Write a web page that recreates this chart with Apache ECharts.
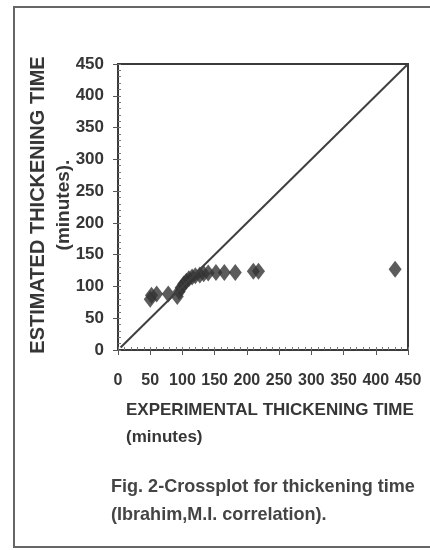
<!DOCTYPE html>
<html>
<head>
<meta charset="utf-8">
<script src="https://cdn.jsdelivr.net/npm/echarts@6/dist/echarts.min.js"></script>
<style>
html,body{margin:0;padding:0;background:#fff;}
#c{width:430px;height:550px;}
</style>
</head>
<body>
<div id="c"></div>
<script>
// Data
const experimental = [50, 52, 60, 78, 92, 95, 98, 102, 106, 110, 115, 120, 127, 133, 140, 152, 165, 182, 210, 218, 430];
const estimated    = [80, 86, 88, 88, 84, 92, 98, 104, 108, 112, 115, 117, 118, 120, 121, 122, 122, 122, 124, 124, 127];
const diagonalX = [4, 450];
const diagonalY = [4, 450];
const xTicks = [0, 50, 100, 150, 200, 250, 300, 350, 400, 450];
const yTicks = [0, 50, 100, 150, 200, 250, 300, 350, 400, 450];
const xTitle = ['EXPERIMENTAL THICKENING TIME', '(minutes)'];
const yTitle = ['ESTIMATED THICKENING TIME', '(minutes).'];
const caption = ['Fig. 2-Crossplot for thickening time', '(Ibrahim,M.I. correlation).'];

const FONT = '"Liberation Sans", Arial, sans-serif';
const INK = '#363636';

const points = experimental.map((x, i) => [x, estimated[i]]);
const diag = diagonalX.map((x, i) => [x, diagonalY[i]]);

const chart = echarts.init(document.getElementById('c'), null, {renderer: 'canvas'});

const axisMin = xTicks[0], axisMax = xTicks[xTicks.length - 1];
const step = xTicks[1] - xTicks[0];

chart.setOption({
  animation: false,
  backgroundColor: '#fff',
  grid: {left: 118, top: 64, right: 22, bottom: 200, show: true, borderColor: '#3a3a3a', borderWidth: 2, backgroundColor: 'transparent'},
  xAxis: [
    {type: 'value', min: axisMin, max: axisMax, interval: step, position: 'bottom',
     axisLine: {show: true, onZero: false, lineStyle: {color: '#3a3a3a', width: 2}},
     axisTick: {show: true, inside: false, length: 5, lineStyle: {color: '#555'}},
     axisLabel: {show: true, margin: 23, color: INK, fontFamily: FONT, fontWeight: 'bold', fontSize: 16},
     splitLine: {show: false}},
    {type: 'value', min: axisMin, max: axisMax, interval: 10, position: 'bottom',
     axisLine: {show: false, onZero: false},
     axisTick: {show: true, inside: true, length: 3, lineStyle: {color: '#777'}},
     axisLabel: {show: false}, splitLine: {show: false}}
  ],
  yAxis: [
    {type: 'value', min: yTicks[0], max: yTicks[yTicks.length - 1], interval: yTicks[1] - yTicks[0], position: 'left',
     axisLine: {show: true, onZero: false, lineStyle: {color: '#3a3a3a', width: 2}},
     axisTick: {show: true, inside: false, length: 5, lineStyle: {color: '#555'}},
     axisLabel: {show: true, margin: 14, color: INK, fontFamily: FONT, fontWeight: 'bold', fontSize: 17},
     splitLine: {show: false}},
    {type: 'value', min: yTicks[0], max: yTicks[yTicks.length - 1], interval: 10, position: 'left',
     axisLine: {show: false, onZero: false},
     axisTick: {show: true, inside: true, length: 3, lineStyle: {color: '#777'}},
     axisLabel: {show: false}, splitLine: {show: false}}
  ],
  series: [
    {type: 'line', data: diag, xAxisIndex: 0, yAxisIndex: 0, symbol: 'none',
     lineStyle: {color: '#3f3f3f', width: 2}, silent: true},
    {type: 'scatter', data: points, xAxisIndex: 0, yAxisIndex: 0, symbol: 'diamond', symbolSize: [13, 17],
     itemStyle: {color: '#333'}}
  ],
  graphic: [
    {type: 'rect', shape: {x: 14, y: 7, width: 440, height: 540}, style: {fill: 'none', stroke: '#666', lineWidth: 2}, silent: true},
    {type: 'text', x: 38, y: 205, rotation: Math.PI / 2,
     style: {text: yTitle[0], font: 'bold 20px ' + FONT, fill: INK, textAlign: 'center', textVerticalAlign: 'middle'}},
    {type: 'text', x: 64, y: 205, rotation: Math.PI / 2,
     style: {text: yTitle[1], font: 'bold 19px ' + FONT, fill: INK, textAlign: 'center', textVerticalAlign: 'middle'}},
    {type: 'text', x: 126, y: 410,
     style: {text: xTitle[0], font: 'bold 17px ' + FONT, fill: INK, textAlign: 'left', textVerticalAlign: 'middle'}},
    {type: 'text', x: 126, y: 437,
     style: {text: xTitle[1], font: 'bold 17px ' + FONT, fill: INK, textAlign: 'left', textVerticalAlign: 'middle'}},
    {type: 'text', x: 111, y: 487, scaleX: 0.95,
     style: {text: caption[0], font: 'bold 19px ' + FONT, fill: '#444', textAlign: 'left', textVerticalAlign: 'middle'}},
    {type: 'text', x: 111, y: 515, scaleX: 0.95,
     style: {text: caption[1], font: 'bold 19px ' + FONT, fill: '#444', textAlign: 'left', textVerticalAlign: 'middle'}}
  ]
});
</script>
</body>
</html>
